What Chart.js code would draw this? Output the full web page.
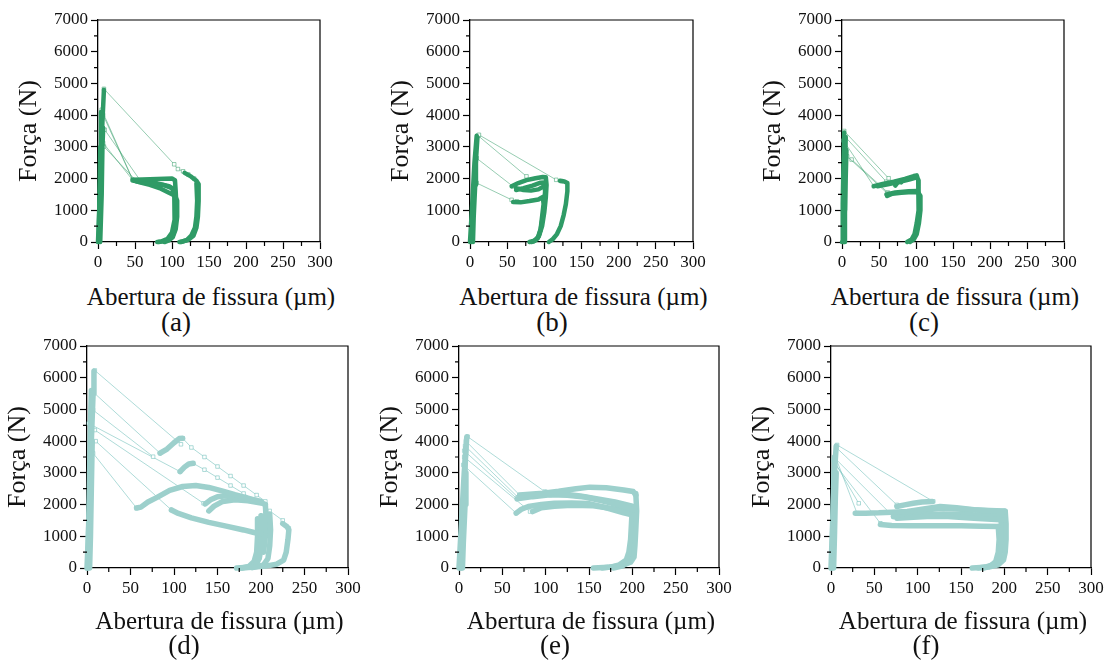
<!DOCTYPE html>
<html>
<head>
<meta charset="utf-8">
<script src="https://cdn.jsdelivr.net/npm/chart.js@4.4.0/dist/chart.umd.min.js"></script>
<style>
  body { margin: 0; background: #fff; width: 1105px; height: 661px; overflow: hidden; position: relative; font-family: 'Liberation Serif', 'Times New Roman', serif; }
  canvas { position: absolute; }
  .tag, .xtitle { position: absolute; color: #111; transform: translate(-50%, -50%); white-space: nowrap; line-height: 1; }
  .tag { font-size: 27px; }
  .xtitle { font-size: 25px; }
</style>
</head>
<body>
<script>
// --- Data (crack opening in µm, force in N) ---
const xTitle = 'Abertura de fissura (µm)';
const yTitle = 'Força (N)';
const panelTags = ['(a)', '(b)', '(c)', '(d)', '(e)', '(f)'];
const xMinorTicks = [25, 75, 125, 175, 225, 275];
const yMinorTicks = [500, 1500, 2500, 3500, 4500, 5500, 6500];

// (a)
const aThick = [
  [[0,0],[2,1200],[4,2600],[6,3800],[8,4800]],
  [[1,0],[2,1500],[3,3000],[4,4100]],
  [[3,0],[5,1500],[6,3000],[7,3600]],
  [[47,1960],[60,1970],[80,1990],[100,2000],[104,1950],[105,1600],[106,1100],[105,600],[102,250],[96,90],[88,20],[82,0]],
  [[48,1930],[62,1900],[80,1850],[96,1760],[103,1650],[104,1200],[103,700],[100,300],[94,100],[86,20],[80,0]],
  [[55,1890],[70,1800],[85,1680],[98,1530],[104,1460],[107,1300],[107,800],[105,400],[101,150],[95,40],[90,0]],
  [[52,1910],[70,1860],[88,1800],[100,1700],[103,1500]],
  [[117,2180],[126,2060],[133,1930],[136,1820],[136,1300],[135,800],[133,450],[129,200],[122,70],[114,15],[110,0]],
  [[133,1850],[134,1300],[133,800],[131,450],[126,200],[120,60],[112,0]]
];
const aThin = [
  [[8,4830],[103,2450],[108,2300],[115,2230],[122,2130],[130,2000]],
  [[5,4170],[47,1960]],
  [[7,4000],[47,1950]],
  [[9,3540],[58,1910]],
  [[7,3120],[47,1950]],
  [[8,3010],[52,1920]]
];

// (b)
const bThick = [
  [[0,0],[3,1200],[6,2500],[9,3350]],
  [[2,0],[4,1000],[7,2200],[10,3300]],
  [[4,0],[5,800],[7,1800],[8,2700]],
  [[56,1760],[65,1860],[76,1950],[88,2010],[98,2050],[102,2040],[103,1800],[102,1400],[100,950],[97,500],[93,200],[88,50],[80,0]],
  [[62,1640],[72,1700],[84,1780],[95,1870],[100,1880],[101,1600],[100,1200],[98,800],[95,400],[92,150],[86,30],[83,0]],
  [[58,1260],[68,1250],[80,1290],[92,1340],[98,1420],[99,1200],[97,800],[95,400],[91,120],[86,20]],
  [[62,1700],[72,1640],[82,1620],[92,1660],[99,1750]],
  [[121,1930],[127,1910],[131,1860],[131,1600],[129,1200],[126,850],[122,500],[117,250],[111,80],[106,0]]
];
const bThin = [
  [[12,3380],[116,1960],[123,1920]],
  [[11,3350],[76,2070]],
  [[9,2640],[58,1750]],
  [[9,1860],[56,1330],[63,1280]]
];

// (c)
const cThick = [
  [[0,0],[1,1200],[2,2500],[3,3450]],
  [[2,0],[3,1000],[4,2200],[5,3300]],
  [[3,0],[4,900],[5,2000],[6,2900]],
  [[43,1760],[55,1830],[70,1900],[85,1990],[97,2080],[101,2100],[103,1950],[104,1500],[103,1000],[101,600],[98,250],[94,80],[88,0]],
  [[48,1760],[62,1820],[78,1900],[92,1980],[100,2030]],
  [[61,1450],[68,1520],[80,1550],[95,1580],[103,1560],[106,1450],[106,1000],[104,600],[101,250],[97,80],[92,0]],
  [[60,1500],[72,1560],[90,1600],[102,1610]],
  [[72,1780],[76,1900],[80,1880]]
];
const cThin = [
  [[3,3500],[63,2010]],
  [[2,3200],[43,1760]],
  [[5,3300],[60,1900]],
  [[7,2700],[61,1540]],
  [[13,2600],[62,1560]]
];

// (d)
const dThick = [
  [[0,0],[3,2000],[5,4000],[7,5500],[8,6200]],
  [[1,0],[2,1500],[3,3000],[4,4500],[5,5600]],
  [[3,0],[4,1000],[5,2500],[6,4000]],
  [[84,3620],[92,3750],[100,3950],[106,4080],[110,4090]],
  [[107,3040],[112,3180],[117,3280],[122,3300]],
  [[57,1890],[62,1920],[70,2080],[80,2220],[95,2450],[110,2570],[125,2600],[140,2540],[155,2430],[170,2310],[185,2200],[198,2100],[205,2000]],
  [[97,1830],[105,1720],[120,1580],[140,1440],[160,1320],[180,1200],[192,1120],[200,1080]],
  [[136,2020],[142,2150],[150,2250],[160,2280],[175,2200],[190,2150],[200,2100]],
  [[140,1800],[146,1950],[156,2100],[170,2150],[185,2120],[200,2050]],
  [[225,1400],[230,1300],[232,1200],[231,900],[229,500],[226,250],[218,120],[205,60],[190,20],[176,0]],
  [[200,1650],[201,1200],[200,700],[198,300],[194,100],[185,20],[172,0]],
  [[196,1550],[196,1000],[195,500],[192,200],[186,50],[178,0]],
  [[210,1700],[211,1200],[210,700],[208,300],[203,100],[190,10]],
  [[205,2000],[206,1500],[205,1000],[203,500]]
];
const dThin = [
  [[9,6230],[108,3900]],
  [[7,5550],[84,3620]],
  [[7,4980],[76,3510]],
  [[2,4560],[107,3040]],
  [[9,4350],[134,2040]],
  [[7,3620],[57,1890]],
  [[10,4000],[97,1830]],
  [[110,4090],[120,3800],[135,3500],[150,3200],[165,2900],[180,2600],[195,2300],[205,2100]],
  [[122,3300],[135,3100],[150,2850],[165,2600],[180,2350],[195,2100],[210,1800],[225,1500],[232,1250]]
];

// (e)
const eThick = [
  [[0,0],[3,1500],[6,3000],[9,4140]],
  [[2,0],[4,1200],[6,2500],[8,3800]],
  [[4,0],[5,800],[7,2000],[8,3000]],
  [[70,2300],[85,2330],[97,2360],[115,2420],[135,2500],[151,2550],[170,2530],[190,2460],[201,2410],[204,2300]],
  [[67,2180],[85,2250],[105,2310],[125,2290],[145,2240],[165,2120],[185,1980],[203,1830]],
  [[66,1730],[72,1850],[80,1940],[95,2000],[110,2040],[130,2050],[150,2030],[170,1900],[190,1740],[203,1650]],
  [[100,2380],[120,2330],[140,2270],[160,2180],[180,2080],[200,1950]],
  [[85,1780],[95,1900],[110,1950],[130,1980],[155,1960],[180,1860],[200,1750]],
  [[204,2350],[205,1800],[204,1200],[203,700],[202,350],[198,180],[188,80],[172,20],[155,0]],
  [[200,1900],[199,1400],[198,900],[196,500],[193,250],[185,100],[175,30],[165,0]],
  [[203,1700],[202,1000],[200,500],[196,200],[188,60],[178,0]]
];
const eThin = [
  [[10,4140],[99,2410],[105,2300]],
  [[8,4000],[70,2300]],
  [[7,3850],[68,2230]],
  [[6,3700],[67,2180]],
  [[6,3500],[82,1780]],
  [[5,3250],[66,1730]]
];

// (f)
const fThick = [
  [[0,0],[2,1500],[4,3000],[6,3850]],
  [[1,0],[2,1200],[3,2500],[4,3500]],
  [[3,0],[4,1000],[5,2200],[6,3000]],
  [[76,1940],[85,1990],[95,2040],[105,2080],[117,2100]],
  [[28,1730],[40,1730],[55,1740],[70,1760],[88,1780],[105,1850],[126,1940],[145,1900],[165,1840],[185,1800],[201,1780]],
  [[72,1620],[85,1720],[100,1800],[126,1880],[150,1850],[175,1820],[199,1800]],
  [[57,1370],[70,1340],[90,1330],[120,1330],[150,1330],[175,1320],[193,1310]],
  [[76,1570],[95,1600],[111,1620],[135,1620],[165,1570],[185,1540],[201,1510]],
  [[80,1650],[100,1680],[130,1700],[160,1680],[190,1660],[201,1650]],
  [[201,1800],[202,1400],[202,900],[201,500],[199,250],[193,100],[182,30],[163,0]],
  [[196,1650],[197,1100],[196,600],[194,300],[189,120],[180,40],[170,0]],
  [[193,1310],[194,900],[193,500],[190,200],[184,60],[176,0]]
];
const fThin = [
  [[7,3880],[118,2100]],
  [[6,3800],[76,1990]],
  [[5,3510],[30,1730]],
  [[3,3400],[32,2040]],
  [[4,3300],[57,1410]],
  [[5,3450],[72,1620]]
];

// --- Layout ---
const GREEN = '#2f9b66', GREEN_THIN = 'rgba(47,155,102,0.5)';
const TEAL = '#9dd0cc', TEAL_THIN = 'rgba(120,195,190,0.6)';
const FONT = "'Liberation Serif', 'Times New Roman', serif";

const panels = [
  { thick: aThick, thin: aThin, left: 98,  top: 20,  w: 222, h: 222, color: GREEN, thinColor: GREEN_THIN, lw: 4.5, tag: [176, 322], titleY: 296 },
  { thick: bThick, thin: bThin, left: 470, top: 20,  w: 223, h: 222, color: GREEN, thinColor: GREEN_THIN, lw: 4.5, tag: [552, 322], titleY: 296 },
  { thick: cThick, thin: cThin, left: 842, top: 20,  w: 222, h: 222, color: GREEN, thinColor: GREEN_THIN, lw: 4.5, tag: [924, 322], titleY: 296 },
  { thick: dThick, thin: dThin, left: 87,  top: 346, w: 261, h: 222, color: TEAL,  thinColor: TEAL_THIN,  lw: 5.5, tag: [184, 645], titleY: 620 },
  { thick: eThick, thin: eThin, left: 459, top: 346, w: 260, h: 222, color: TEAL,  thinColor: TEAL_THIN,  lw: 5.5, tag: [555, 645], titleY: 620 },
  { thick: fThick, thin: fThin, left: 831, top: 346, w: 260, h: 222, color: TEAL,  thinColor: TEAL_THIN,  lw: 5.5, tag: [926, 645], titleY: 620 }
];

const Y_W = 87, X_H = 40, PAD_T = 15, PAD_R = 25;

// frame on top/right + minor ticks
const framePlugin = {
  id: 'frame',
  afterDraw(chart) {
    const { ctx, chartArea: a, scales: { x, y } } = chart;
    ctx.save();
    ctx.strokeStyle = '#000';
    ctx.lineWidth = 1.2;
    ctx.beginPath();
    ctx.moveTo(a.left, a.top);
    ctx.lineTo(a.right, a.top);
    ctx.lineTo(a.right, a.bottom);
    xMinorTicks.forEach(v => {
      const px = x.getPixelForValue(v);
      ctx.moveTo(px, a.bottom);
      ctx.lineTo(px, a.bottom + 4);
    });
    yMinorTicks.forEach(v => {
      const py = y.getPixelForValue(v);
      ctx.moveTo(a.left, py);
      ctx.lineTo(a.left - 4, py);
    });
    ctx.stroke();
    ctx.restore();
  }
};

function toPts(path) {
  return path.map(([x, y]) => ({ x, y }));
}

function addText(cls, text, x, y) {
  const el = document.createElement('div');
  el.className = cls;
  el.textContent = text;
  el.style.left = x + 'px';
  el.style.top = y + 'px';
  document.body.appendChild(el);
}

panels.forEach((p, i) => {
  const canvas = document.createElement('canvas');
  const cw = Y_W + p.w + PAD_R, ch = PAD_T + p.h + X_H;
  canvas.width = cw;
  canvas.height = ch;
  canvas.style.left = (p.left - Y_W) + 'px';
  canvas.style.top = (p.top - PAD_T) + 'px';
  canvas.style.width = cw + 'px';
  canvas.style.height = ch + 'px';
  document.body.appendChild(canvas);

  const datasets = [];
  p.thick.forEach(path => datasets.push({
    data: toPts(path), showLine: true, borderColor: p.color, borderWidth: p.lw,
    borderJoinStyle: 'round', borderCapStyle: 'round', pointRadius: 0, clip: false
  }));
  p.thin.forEach(path => datasets.push({
    data: toPts(path), showLine: true, borderColor: p.thinColor, borderWidth: 1,
    pointStyle: 'rect', pointRadius: 2.5, pointBackgroundColor: '#fff',
    pointBorderColor: p.thinColor, pointBorderWidth: 1, clip: false
  }));

  const tickFont = { family: FONT, size: 17 };
  new Chart(canvas.getContext('2d'), {
    type: 'scatter',
    data: { datasets },
    options: {
      responsive: false,
      animation: false,
      events: [],
      layout: { padding: { top: PAD_T, right: PAD_R, left: 0, bottom: 0 } },
      plugins: { legend: { display: false }, tooltip: { enabled: false } },
      scales: {
        x: {
          type: 'linear', min: 0, max: 300,
          ticks: { stepSize: 50, autoSkip: false, maxRotation: 0, padding: 3, color: '#111', font: tickFont, callback: v => String(v) },
          grid: { display: true, drawOnChartArea: false, tickLength: 7, color: '#000', tickWidth: 1.2 },
          border: { display: true, color: '#000', width: 1.3 },
          afterFit(s) { s.height = X_H; }
        },
        y: {
          type: 'linear', min: 0, max: 7000,
          ticks: { stepSize: 1000, autoSkip: false, padding: 3, color: '#111', font: tickFont, callback: v => String(v) },
          grid: { display: true, drawOnChartArea: false, tickLength: 7, color: '#000', tickWidth: 1.2 },
          border: { display: true, color: '#000', width: 1.3 },
          title: { display: true, text: yTitle, color: '#111', font: { family: FONT, size: 26 }, padding: { top: 3, bottom: 0 } },
          afterFit(s) { s.width = Y_W; }
        }
      }
    },
    plugins: [framePlugin]
  });

  addText('xtitle', xTitle, p.left + p.w / 2 + 2, p.titleY);
  addText('tag', panelTags[i], p.tag[0], p.tag[1]);
});
</script>
</body>
</html>
